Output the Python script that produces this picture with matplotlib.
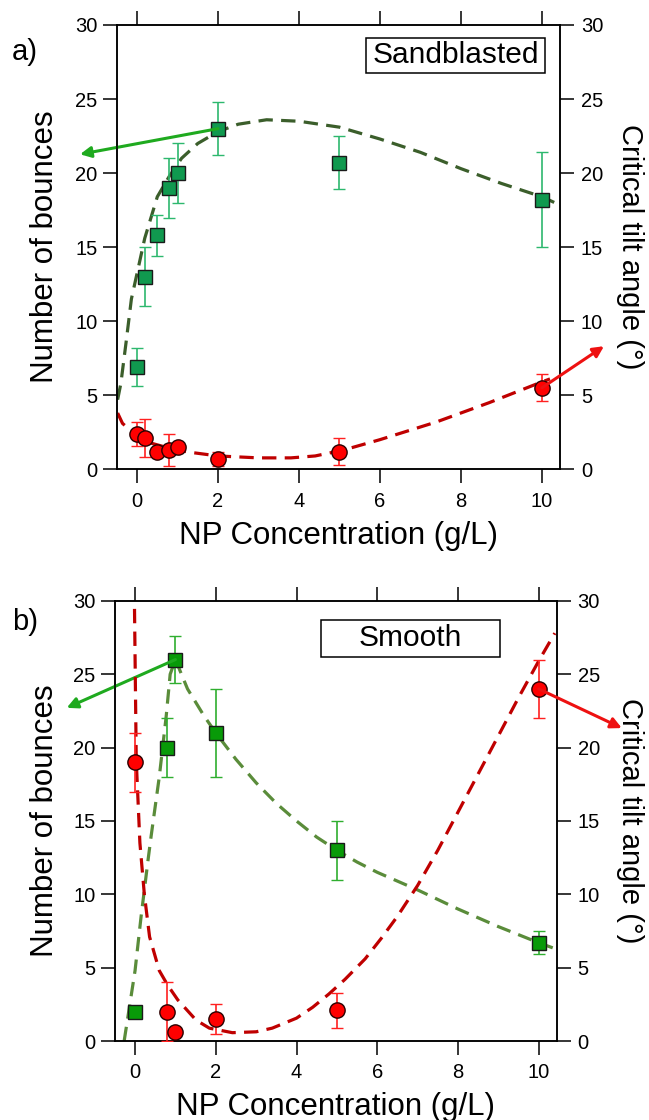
import matplotlib
matplotlib.use('Agg')
import matplotlib.pyplot as plt
from matplotlib.patches import Rectangle

plt.rcParams['font.family'] = ['Liberation Sans', 'DejaVu Sans']

# ---------------- data: panel a (Sandblasted) ----------------
a_bounce_x = [0, 0.2, 0.5, 0.8, 1, 2, 5, 10]
a_bounce_y = [6.9, 13.0, 15.8, 19.0, 20.0, 23.0, 20.7, 18.2]
a_bounce_err = [1.3, 2.0, 1.4, 2.0, 2.0, 1.8, 1.8, 3.2]

a_angle_x = [0, 0.2, 0.5, 0.8, 1, 2, 5, 10]
a_angle_y = [2.4, 2.1, 1.2, 1.3, 1.5, 0.7, 1.2, 5.5]
a_angle_err = [0.8, 1.3, 0.0, 1.1, 0.0, 0.5, 0.9, 0.9]

a_fit_bounce_x = [-0.48, -0.4, -0.27, -0.14, 0.03, 0.19, 0.5, 0.8, 1.1, 1.5, 2.0, 2.5,
                  3.2, 4.0, 5.0, 6.0, 7.0, 8.0, 9.0, 10.0, 10.4]
a_fit_bounce_y = [4.7, 5.8, 8.6, 11.5, 13.6, 15.6, 18.4, 19.8, 21.0, 22.0, 22.8, 23.3,
                  23.6, 23.5, 23.1, 22.3, 21.4, 20.3, 19.3, 18.4, 17.9]

a_fit_angle_x = [-0.48, -0.36, -0.11, 0.3, 0.9, 1.3, 2.0, 3.0, 3.8, 4.4, 5.1, 6.0,
                 7.4, 8.7, 10.0, 10.2]
a_fit_angle_y = [3.8, 3.1, 2.5, 1.8, 1.35, 1.15, 0.9, 0.77, 0.77, 0.9, 1.3, 2.0,
                 3.2, 4.5, 5.9, 6.1]

# ---------------- data: panel b (Smooth) ----------------
b_bounce_x = [0, 0.8, 1, 2, 5, 10]
b_bounce_y = [2.0, 20.0, 26.0, 21.0, 13.0, 6.7]
b_bounce_err = [0.0, 2.0, 1.6, 3.0, 2.0, 0.8]

b_angle_x = [0, 0.8, 1, 2, 5, 10]
b_angle_y = [19.0, 2.0, 0.6, 1.5, 2.1, 24.0]
b_angle_err = [2.0, 2.0, 0.0, 1.0, 1.2, 2.0]

b_fit_bounce_x = [-0.27, 0.0, 0.15, 0.32, 0.4, 0.6, 0.77, 0.87, 1.0, 1.3, 1.7, 2.0,
                  2.5, 3.0, 3.5, 4.0, 4.5, 5.0, 5.5, 6.0, 7.0, 8.0, 9.0, 10.0, 10.4]
b_fit_bounce_y = [0.0, 4.8, 8.5, 12.3, 14.0, 18.0, 22.1, 25.0, 26.0, 24.0, 22.2, 21.0,
                  19.2, 17.6, 16.2, 15.0, 13.9, 13.0, 12.2, 11.5, 10.3, 9.0, 7.8, 6.7, 6.3]

b_fit_angle_x = [-0.02, 0.03, 0.12, 0.23, 0.36, 0.6, 0.81, 1.06, 1.51, 1.84, 2.41, 3.0,
                 3.4, 4.0, 4.4, 4.8, 5.2, 5.7, 6.1, 6.5, 7.0, 7.5, 8.0, 8.5, 9.0,
                 9.5, 10.0, 10.4]
b_fit_angle_y = [31.0, 19.1, 13.5, 10.0, 7.1, 4.8, 3.8, 2.8, 1.43, 0.88, 0.57, 0.63,
                 0.88, 1.56, 2.3, 3.2, 4.2, 5.6, 7.0, 8.5, 10.6, 13.0, 15.6, 18.2, 20.8,
                 23.4, 25.9, 27.8]

YTICKS = [0, 5, 10, 15, 20, 25, 30]
XTICKS = [0, 2, 4, 6, 8, 10]
W, H = 649, 1120

fig = plt.figure(figsize=(W / 100, H / 100), dpi=100)


def style_axes(ax, ax2):
    ax.set_xlim(-0.5, 10.45)
    ax.set_ylim(0, 30)
    ax2.set_ylim(0, 30)
    ax.set_xticks(XTICKS)
    ax.set_yticks(YTICKS)
    ax2.set_yticks(YTICKS)
    ax.tick_params(axis='x', which='both', direction='out', length=10, width=1.1,
                   top=True, labeltop=False, labelsize=14.5, pad=6)
    ax.tick_params(axis='y', direction='out', length=10, width=1.1, labelsize=14.5, pad=4)
    ax2.tick_params(axis='y', direction='out', length=10, width=1.1, labelsize=14.5, pad=5)
    for a in (ax, ax2):
        for s in a.spines.values():
            s.set_linewidth(1.1)


def draw_panel(rect, bx, by, be, ax_, ay, ae, fbx, fby, fax, fay,
               bounce_color, bounce_err_color, fit_green, arrow_green_tip, arrow_red_tip,
               green_src, red_src, box, title, tag, tag_y, xlab_base):
    ax = fig.add_axes(rect)
    ax2 = ax.twinx()
    style_axes(ax, ax2)

    # fits
    ax.plot(fbx, fby, color=fit_green, lw=2.3, dashes=(4.5, 2.6), zorder=2)
    ax2.plot(fax, fay, color='#bf0000', lw=2.3, dashes=(4.5, 2.6), zorder=2)

    # data
    ax.errorbar(bx, by, yerr=be, fmt='s', ms=10, mfc=bounce_color, mec='#1a1a1a', mew=1.0,
                ecolor=bounce_err_color, elinewidth=1.2, capsize=4.5, capthick=1.2, zorder=3)
    ax2.errorbar(ax_, ay, yerr=ae, fmt='o', ms=11, mfc='#ff0000', mec='#2a0000', mew=1.0,
                 ecolor='#ff2020', elinewidth=1.2, capsize=4.5, capthick=1.2, zorder=3)

    # arrows pointing to the axes
    ax.annotate('', xy=arrow_green_tip, xycoords='axes fraction',
                xytext=green_src, textcoords='data',
                arrowprops=dict(arrowstyle='-|>', color='#1faa1f', lw=2.2, mutation_scale=16,
                                shrinkA=0, shrinkB=0), annotation_clip=False, zorder=5)
    ax2.annotate('', xy=arrow_red_tip, xycoords='axes fraction',
                 xytext=red_src, textcoords='data',
                 arrowprops=dict(arrowstyle='-|>', color='#ee1111', lw=2.2, mutation_scale=16,
                                 shrinkA=0, shrinkB=0), annotation_clip=False, zorder=5)

    # label box
    x0, x1, y0, y1 = box
    ax2.add_patch(Rectangle((x0, y0), x1 - x0, y1 - y0, transform=ax2.transAxes,
                            fill=False, ec='black', lw=1.1, zorder=6))
    ax2.text((x0 + x1) / 2, (y0 + y1) / 2, title, transform=ax2.transAxes,
             ha='center', va='center', fontsize=21.5, zorder=7)

    fig.text(12 / W, tag_y, tag, fontsize=21, ha='left', va='center')

    # axis labels, placed by baseline
    left, bottom, width, height = rect
    yc = bottom + height / 2
    xc = left + width / 2
    fig.text(53 / W, yc, 'Number of bounces', fontsize=22.5, rotation=90,
             rotation_mode='anchor', ha='center', va='baseline')
    fig.text(622 / W, yc, 'Critical tilt angle (°)', fontsize=21, rotation=-90,
             rotation_mode='anchor', ha='center', va='baseline')
    fig.text(xc, 1 - xlab_base / H, 'NP Concentration (g/L)', fontsize=22.5,
             ha='center', va='baseline')
    return ax, ax2


draw_panel([0.180, 0.581, 0.683, 0.3967],
           a_bounce_x, a_bounce_y, a_bounce_err, a_angle_x, a_angle_y, a_angle_err,
           a_fit_bounce_x, a_fit_bounce_y, a_fit_angle_x, a_fit_angle_y,
           '#10994f', '#2db86e', '#3b5e2b', (-0.083, 0.709), (1.099, 0.277),
           (2, 23.0), (10, 5.5), (0.562, 0.966, 0.892, 0.971), 'Sandblasted',
           'a)', 1 - 52 / H, 544)

draw_panel([0.177, 0.0705, 0.681, 0.393],
           b_bounce_x, b_bounce_y, b_bounce_err, b_angle_x, b_angle_y, b_angle_err,
           b_fit_bounce_x, b_fit_bounce_y, b_fit_angle_x, b_fit_angle_y,
           '#089a08', '#2fae2f', '#5a8c3a', (-0.109, 0.757), (1.147, 0.711),
           (1, 26.0), (10, 24.0), (0.466, 0.871, 0.873, 0.957), 'Smooth',
           'b)', 1 - 622 / H, 1115)

fig.savefig('out.png', dpi=100)
